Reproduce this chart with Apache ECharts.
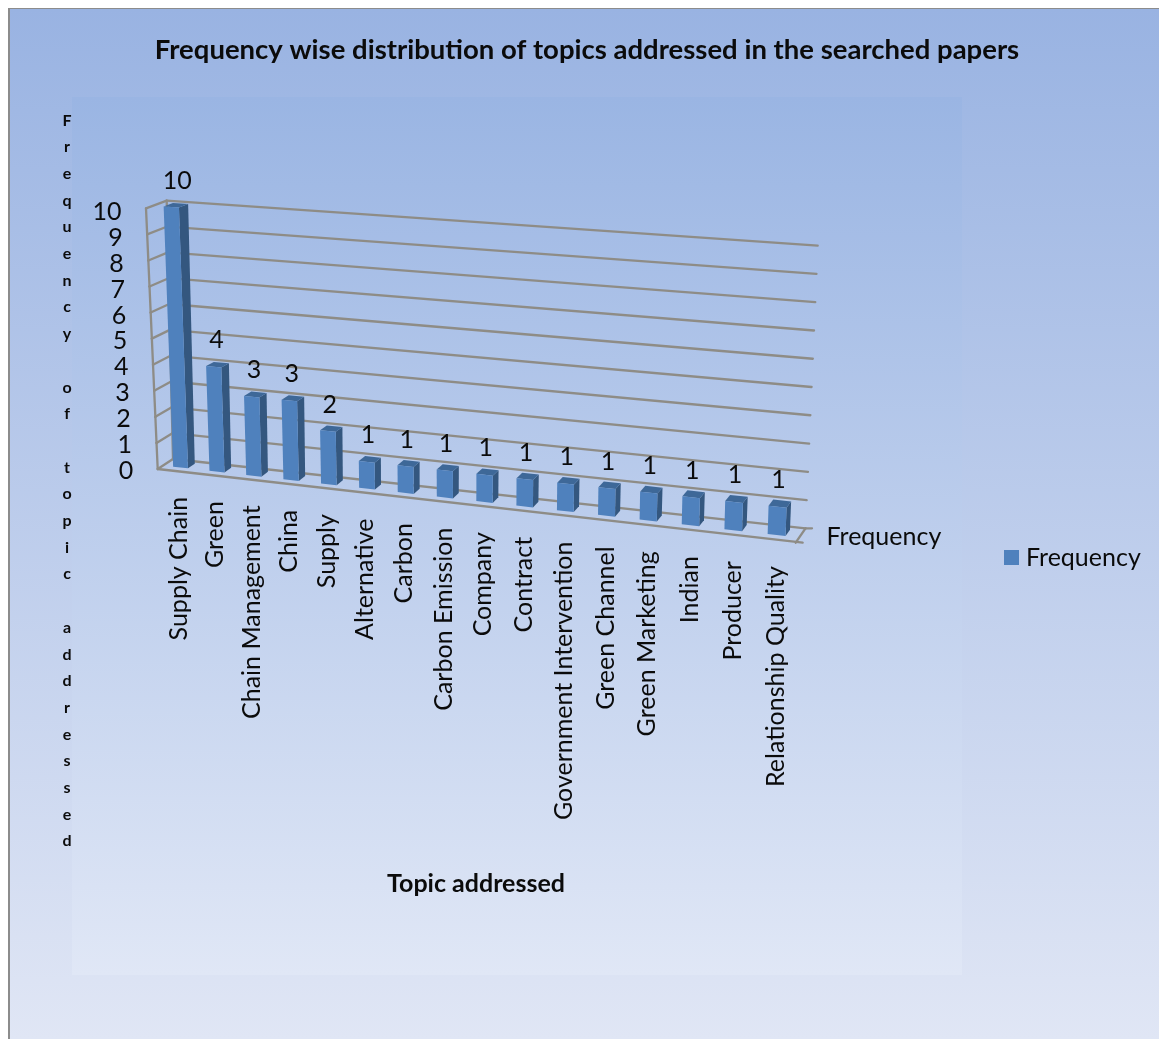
<!DOCTYPE html>
<html>
<head>
<meta charset="utf-8">
<title>Frequency wise distribution of topics</title>
<script src="https://cdn.jsdelivr.net/npm/echarts@6/dist/echarts.min.js"></script>
<style>
  html, body { margin: 0; padding: 0; background: #fff; width: 1159px; height: 1039px; overflow: hidden; }
  #panel {
    position: absolute; left: 8px; top: 8px; right: 0; bottom: 0;
    border-left: 2.5px solid #8c8c8c; border-top: 1.5px solid #8c8c8c;
    background: linear-gradient(180deg, #99b3e2 0%, #e0e6f5 100%);
  }
  #chart { position: absolute; left: 0; top: 0; width: 1159px; height: 1039px; }
</style>
</head>
<body>
<div id="panel"></div>
<div id="chart"></div>
<script>
// Topic frequencies
const categories = ['Supply Chain', 'Green', 'Chain Management', 'China', 'Supply', 'Alternative',
  'Carbon', 'Carbon Emission', 'Company', 'Contract', 'Government Intervention', 'Green Channel',
  'Green Marketing', 'Indian', 'Producer', 'Relationship Quality'];
const frequency = [10, 4, 3, 3, 2, 1, 1, 1, 1, 1, 1, 1, 1, 1, 1, 1];
const valueTicks = [0, 1, 2, 3, 4, 5, 6, 7, 8, 9, 10];

const seriesName = 'Frequency';
const titleText = 'Frequency wise distribution of topics addressed in the searched papers';
const valueAxisTitle = 'Frequency of topic addressed';
const categoryAxisTitle = 'Topic addressed';

const FONT = 'Lato';
const labelFont = '25px ' + FONT;
const INK = '#0b0b0b';
const WALL = '#8e8c86';

// Corners of the 3D box on screen, keyed by [column, value, depth], each 0 or 1.
const box = {
  '000': [157.7, 469], '010': [146, 208.3], '001': [173, 459], '011': [166.7, 200.7],
  '100': [795.7, 542.7], '110': [804.7, 257.2], '101': [805.5, 528.3], '111': [817.7, 245.7]
};
const lerp = (a, b, t) => a + (b - a) * t;
// Columns get slightly wider toward the viewer on the right.
const foreshorten = (s) => 0.905 * s / (1 - 0.095 * s);

function project(s, v, d) {
  const t = foreshorten(s);
  const out = [];
  for (let k = 0; k < 2; k++) {
    const c = (a, b, e) => box['' + a + b + e][k];
    out.push(lerp(
      lerp(lerp(c(0, 0, 0), c(1, 0, 0), t), lerp(c(0, 1, 0), c(1, 1, 0), t), v),
      lerp(lerp(c(0, 0, 1), c(1, 0, 1), t), lerp(c(0, 1, 1), c(1, 1, 1), t), v),
      d
    ));
  }
  return out;
}

// Flat grid position from the axes, as fractions of the plot rectangle.
function flat(api, params, cat, val) {
  const cs = params.coordSys;
  const p = api.coord([cat, val]);
  return { s: (p[0] - cs.x) / cs.width, v: (cs.y + cs.height - p[1]) / cs.height, band: api.size([1, 0])[0] / cs.width };
}

const seg = (a, b) => ({
  type: 'line', shape: { x1: a[0], y1: a[1], x2: b[0], y2: b[1] },
  style: { stroke: WALL, lineWidth: 2.3, lineCap: 'round' }
});
const poly = (points, fill) => ({ type: 'polygon', shape: { points }, style: { fill } });

function renderFrame(params, api) {
  const tick = api.value(0);
  const { v } = flat(api, params, 0, tick);
  const front = project(0, v, 0), back = project(0, v, 1), right = project(1, v, 1);
  const children = [seg(front, back), seg(back, right), {
    type: 'text',
    style: { text: String(tick), x: front[0] - 24.5, y: front[1] + 2 + v * 1.5, align: 'right', verticalAlign: 'middle', font: labelFont, fill: INK }
  }];
  if (tick === 0) {
    const fr = project(1, 0, 0);
    children.push(
      seg(front, [fr[0] + 7, fr[1]]),
      seg(fr, right),
      seg(right, [right[0] + 6.5, right[1]]),
      { type: 'text', style: { text: seriesName, x: right[0] + 21, y: right[1] + 9, align: 'left', verticalAlign: 'middle', font: labelFont, fill: INK } }
    );
  } else {
    const lower = flat(api, params, 0, tick - 1).v;
    children.push(seg(back, project(0, lower, 1)), seg(front, project(0, lower, 0)));
  }
  return { type: 'group', children };
}

function renderBar(params, api) {
  const i = api.value(0), value = api.value(1);
  const base = flat(api, params, i, 0), top = flat(api, params, i, value);
  const s0 = base.s - base.band * 0.22, s1 = base.s + base.band * 0.19;
  const dF = 0.35, dB = 0.8;
  const fl = project(s0, 0, dF), fr = project(s1, 0, dF), tl = project(s0, top.v, dF), tr = project(s1, top.v, dF);
  const br = project(s1, 0, dB), trb = project(s1, top.v, dB), tlb = project(s0, top.v, dB);
  const mid = project((s0 + s1) / 2, top.v, 0.4);
  return {
    type: 'group',
    children: [
      poly([fr, br, trb, tr], '#34577f'),
      poly([tl, tr, trb, tlb], '#3e6898'),
      poly([fl, fr, tr, tl], '#4f81bd'),
      { type: 'text', style: { text: String(value), x: mid[0] + top.v * 5, y: mid[1] - 26, align: 'center', verticalAlign: 'middle', font: labelFont, fill: INK } },
      {
        type: 'text', x: fr[0] - 9.5, y: project(s1, 0, 0)[1] + 25, rotation: Math.PI / 2,
        style: { text: categories[i], x: 0, y: 0, align: 'right', verticalAlign: 'middle', font: labelFont, fill: INK }
      }
    ]
  };
}

const chart = echarts.init(document.getElementById('chart'), null, { renderer: 'canvas' });
chart.setOption({
  animation: false,
  backgroundColor: 'transparent',
  textStyle: { fontFamily: FONT },
  title: [
    { text: titleText, left: 582, top: 31, textAlign: 'center', textStyle: { fontFamily: FONT, fontWeight: 'bold', fontSize: 27.5, color: INK } },
    { text: valueAxisTitle.split('').join('\n'), left: 62, top: 102, textAlign: 'center', textStyle: { fontFamily: FONT, fontWeight: 'bold', fontSize: 16, lineHeight: 26.7, color: INK } },
    { text: categoryAxisTitle, left: 471, top: 866, textAlign: 'center', textStyle: { fontFamily: FONT, fontWeight: 'bold', fontSize: 25, color: INK } }
  ],
  legend: {
    data: [seriesName], left: 1004, top: 545, padding: 0, itemWidth: 15, itemHeight: 15, icon: 'rect',
    textStyle: { fontFamily: FONT, fontSize: 25, color: INK, padding: [0, 0, 0, 2] }
  },
  grid: {
    show: true, left: 72, top: 97, width: 890, height: 878, borderWidth: 0,
    backgroundColor: new echarts.graphic.LinearGradient(0, 0, 0, 1, [
      { offset: 0, color: '#9ab5e3' }, { offset: 1, color: '#e0e7f6' }
    ])
  },
  xAxis: { type: 'category', data: categories, show: false },
  yAxis: { type: 'value', min: 0, max: 10, interval: 1, show: false },
  series: [
    { name: 'wall', type: 'custom', coordinateSystem: 'cartesian2d', clip: false, silent: true, renderItem: renderFrame, encode: { x: 1, y: 0 }, data: valueTicks.map((t) => [t, 0]), z: 1 },
    { name: seriesName, type: 'custom', coordinateSystem: 'cartesian2d', clip: false, silent: true, renderItem: renderBar, encode: { x: 0, y: 1 }, itemStyle: { color: '#4f81bd' }, data: frequency.map((f, i) => [i, f]), z: 2 }
  ]
});
</script>
</body>
</html>
